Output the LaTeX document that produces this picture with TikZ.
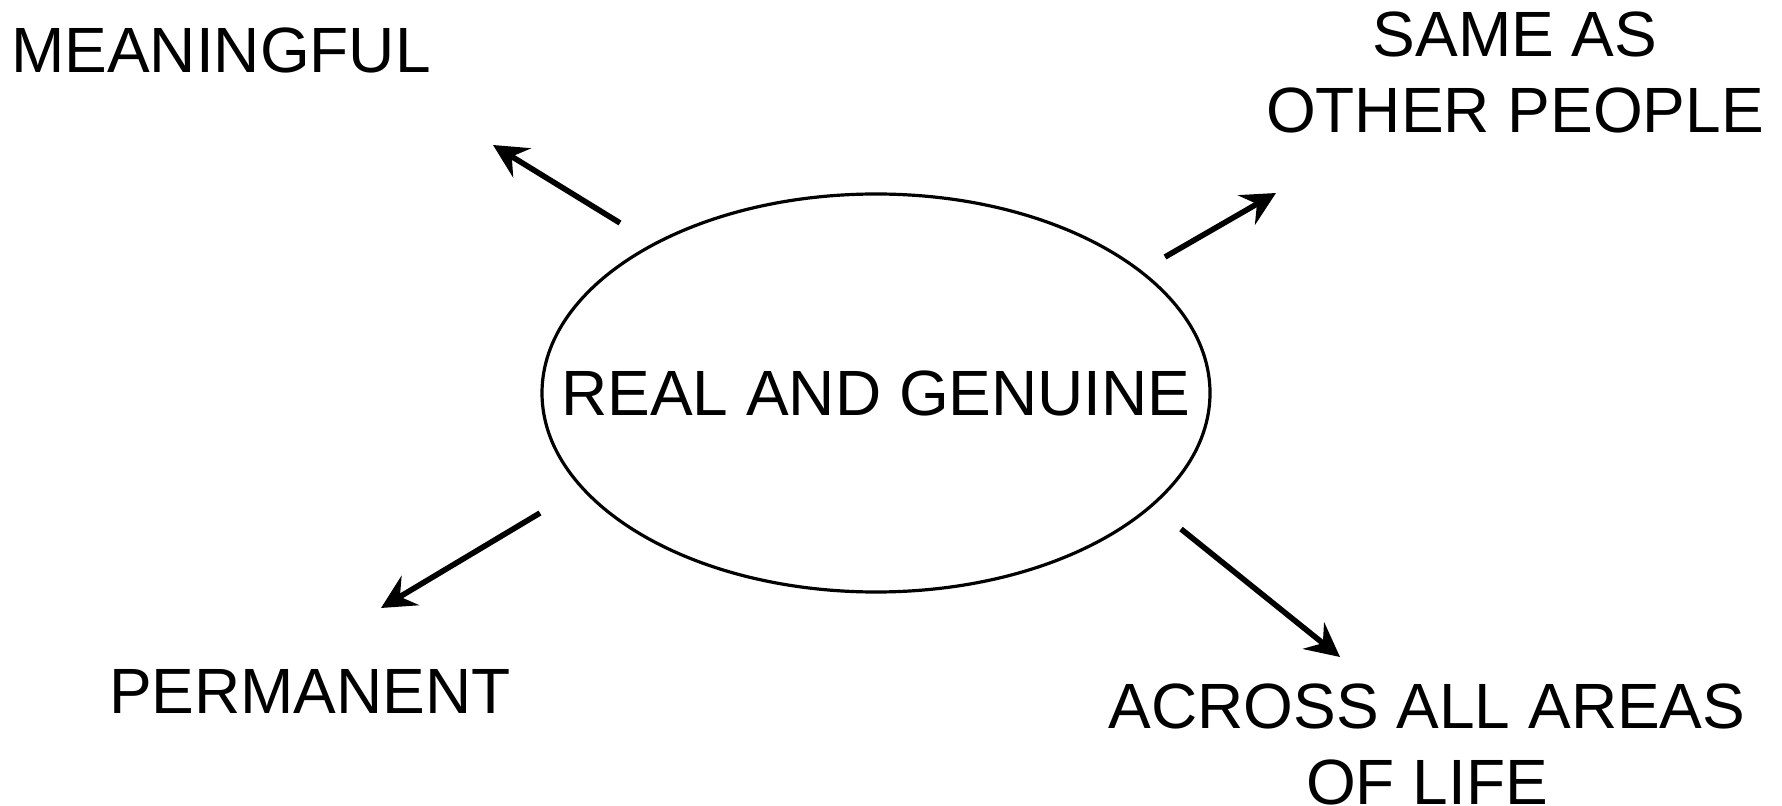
\documentclass[tikz,border=0pt]{standalone}
\usepackage{fontspec}
\setmainfont{Liberation Sans}
\usetikzlibrary{arrows.meta}
\usetikzlibrary{positioning}

\begin{document}
\begin{tikzpicture}[x=0.5pt, y=-0.5pt,
    term/.style={inner sep=0pt, font=\fontsize{32pt}{38pt}\selectfont, align=center},
    pointer/.style={line width=2.8pt, -{Stealth[length=17pt, width=17pt, inset=6pt]}}]
    % Fix the canvas
    \useasboundingbox (0,0) rectangle (1782,806);

    % Draw the central ellipse
    \node[term] (real) at (876,393) {REAL AND GENUINE};
    \draw[line width=1.6pt] (real.center) ellipse [x radius=334, y radius=199];

    % Add the outer labels
    \node[term, anchor=base] (meaningful) at (221,73) {MEANINGFUL};
    \node[term] (same) at (1515,72) {SAME AS\\OTHER PEOPLE};
    \node[term, anchor=base] (permanent) at (310,713) {PERMANENT};
    \node[term] (across) at (1427,744) {ACROSS ALL AREAS\\OF LIFE};

    % Arrow ends
    \coordinate (m0) at (620,223); \coordinate (m1) at (493,145);
    \coordinate (s0) at (1165,257); \coordinate (s1) at (1276,193);
    \coordinate (p0) at (540,513); \coordinate (p1) at (381,608);
    \coordinate (a0) at (1181,529); \coordinate (a1) at (1340,657);

    % Draw the arrows
    \foreach \a/\b in {m0/m1, s0/s1, p0/p1, a0/a1} {
        \draw[pointer] (\a) -- (\b);
    }
\end{tikzpicture}
\end{document}
